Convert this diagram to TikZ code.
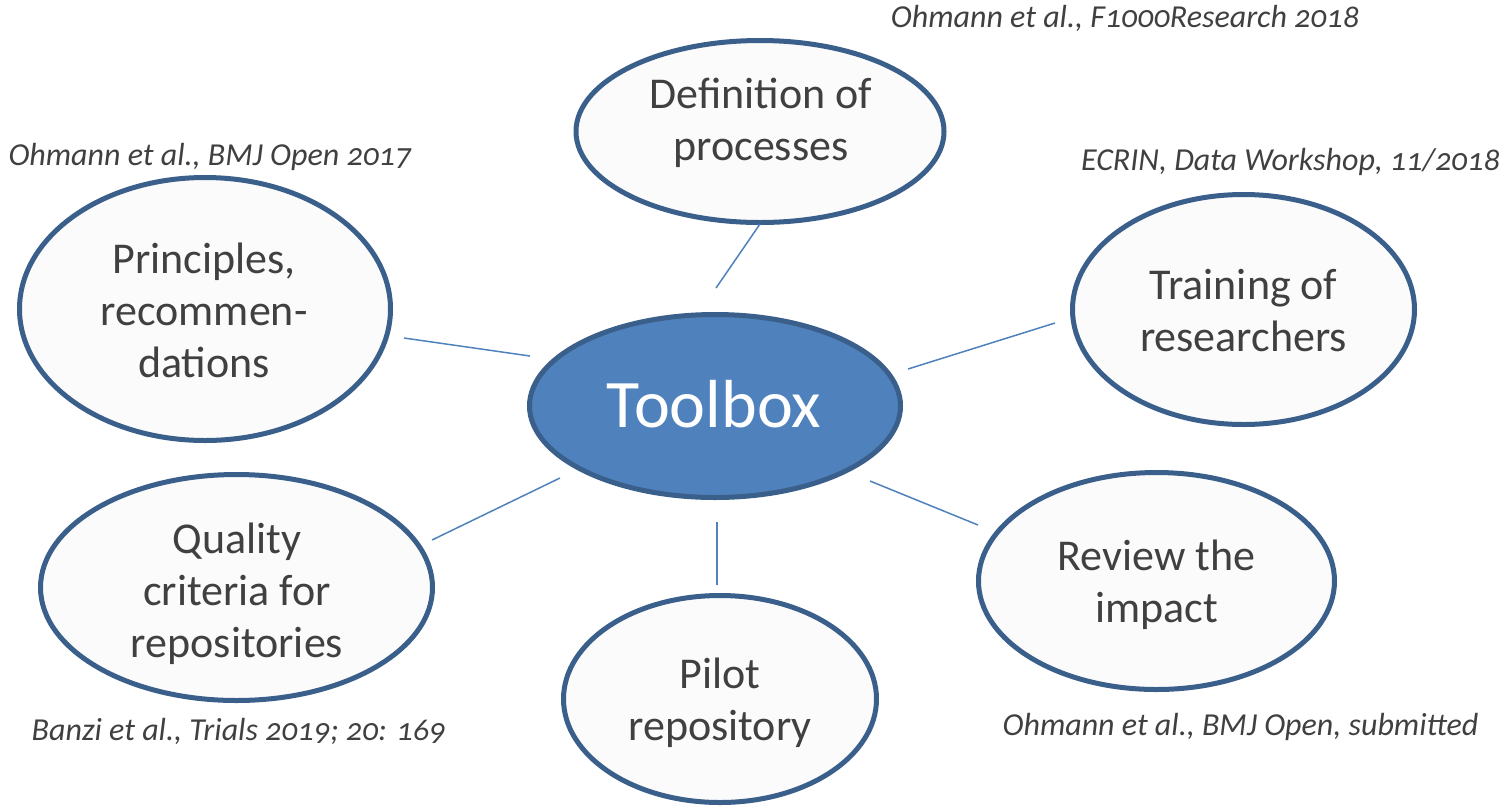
\documentclass[tikz,border=0pt]{standalone}
\usepackage{fontspec}
\setmainfont{Carlito}
\newfontfamily\reffont[Numbers=OldStyle]{Carlito}
\usetikzlibrary{shapes.geometric}
\definecolor{rim}{HTML}{3A5F8B}
\definecolor{hubfill}{HTML}{4F81BD}
\definecolor{leaf}{HTML}{FBFBFB}
\definecolor{ink}{HTML}{404040}
\begin{document}
\begin{tikzpicture}[x=1pt,y=-1pt,
  topic/.style={ellipse, draw=rim, line width=5pt, fill=leaf, inner sep=0pt},
  hubshape/.style={topic, fill=hubfill},
  topictext/.style={font=\fontsize{44}{52}\selectfont, text=ink, align=center, anchor=base, inner sep=0pt},
  hubtext/.style={font=\fontsize{68}{72}\selectfont, text=white, anchor=base, inner sep=0pt},
  citation/.style={font=\reffont\itshape\fontsize{32}{34}\selectfont, text=ink, anchor=base, inner sep=0pt},
  link/.style={draw=hubfill, line width=1.5pt}
]
\useasboundingbox (0,0) rectangle (1505,807);

% central hub and the six surrounding topics
\node[hubshape, minimum width=371pt, minimum height=183pt] (hub) at (715,406) {};
\node[topic, minimum width=368pt, minimum height=182pt] (def) at (760,131.5) {};
\node[topic, minimum width=371pt, minimum height=263pt] (prin) at (205,309) {};
\node[topic, minimum width=342pt, minimum height=230pt] (train) at (1243.5,309.5) {};
\node[topic, minimum width=392pt, minimum height=226pt] (qual) at (236.5,587.5) {};
\node[topic, minimum width=356pt, minimum height=217pt] (rev) at (1156.5,581) {};
\node[topic, minimum width=313pt, minimum height=207pt] (pilot) at (720,699) {};

% texts inside the ellipses (anchored at the baseline of the last line)
\node[hubtext] (hubt) at (714,427) {Toolbox};
\node[topictext] (deft) at (761,160) {Definition of\\processes};
\node[topictext] (print) at (204,377) {Principles,\\recommen-\\dations};
\node[topictext] (traint) at (1243.5,351) {Training of\\researchers};
\node[topictext] (qualt) at (237,657) {Quality\\criteria for\\repositories};
\node[topictext] (revt) at (1156.5,622) {Review the\\impact};
\node[topictext] (pilott) at (720,740) {Pilot\\repository};

% citations
\node[citation] (cdef) at (1125,27) {Ohmann et al., F1000Research 2018};
\node[citation] (cprin) at (210,165) {Ohmann et al., BMJ Open 2017};
\node[citation] (ctrain) at (1290.5,170) {ECRIN, Data Workshop, 11/2018};
\node[citation] (cqual) at (238.5,740) {Banzi et al., Trials 2019; 20: 169};
\node[citation] (crev) at (1240.5,735) {Ohmann et al., BMJ Open, submitted};

% connector end points
\coordinate (hub-def) at (716,288);   \coordinate (def-hub) at (760,224);
\coordinate (hub-prin) at (530,356);  \coordinate (prin-hub) at (404,338);
\coordinate (hub-train) at (908,369); \coordinate (train-hub) at (1055,323);
\coordinate (hub-qual) at (560,478);  \coordinate (qual-hub) at (432,540);
\coordinate (hub-pilot) at (717,522); \coordinate (pilot-hub) at (717,585);
\coordinate (hub-rev) at (870,481);   \coordinate (rev-hub) at (978,525);

\draw[link] (hub-def) -- (def-hub);
\draw[link] (hub-prin) -- (prin-hub);
\draw[link] (hub-train) -- (train-hub);
\draw[link] (hub-qual) -- (qual-hub);
\draw[link] (hub-pilot) -- (pilot-hub);
\draw[link] (hub-rev) -- (rev-hub);
\end{tikzpicture}
\end{document}
